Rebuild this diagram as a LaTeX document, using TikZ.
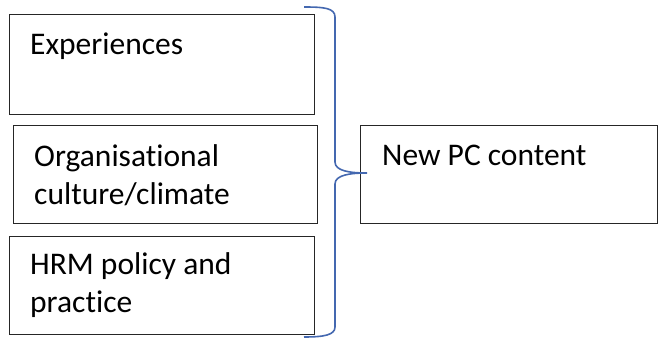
\documentclass[tikz,border=0pt]{standalone}
\usepackage{fontspec}
\setmainfont[Ligatures=NoCommon]{Carlito}
\begin{document}
\begin{tikzpicture}[x=1pt,y=-1pt,
  box/.style={draw=black!85, line width=1.3pt, anchor=north west, inner sep=0pt},
  lbl/.style={anchor=base west, inner sep=0pt, font=\fontsize{31.5}{38}\selectfont},
  brace/.style={draw={rgb,255:red,68;green,104;blue,176}, line width=1.6pt}]
\useasboundingbox (0,0) rectangle (659,340);
% input boxes
\node[box, minimum width=305pt, minimum height=100pt] (exp) at (9,14) {};
\node[box, minimum width=304pt, minimum height=98pt] (org) at (13,125) {};
\node[box, minimum width=305pt, minimum height=98pt] (hrm) at (9,236) {};
% outcome box
\node[box, minimum width=297pt, minimum height=98pt] (pc) at (360,125) {};
% texts
\node[lbl] (t1) at (30,54) {Experiences};
\node[lbl] (t2) at (34,166) {Organisational};
\node[lbl] (t3) at (34,204) {culture/climate};
\node[lbl] (t4) at (30,274) {HRM policy and};
\node[lbl] (t5) at (30,312) {practice};
\node[lbl] (t6) at (382,165) {New PC content};
% brace gathering the three inputs
\coordinate (tip) at (367,173);
\draw[brace] (304,7) .. controls (324,7) and (335,8) .. (335,17)
  -- (335,162) .. controls (335,171) and (350,173) .. (tip)
  .. controls (350,173) and (335,175) .. (335,184)
  -- (335,327) .. controls (335,335) and (324,337) .. (304,337);
\end{tikzpicture}
\end{document}
